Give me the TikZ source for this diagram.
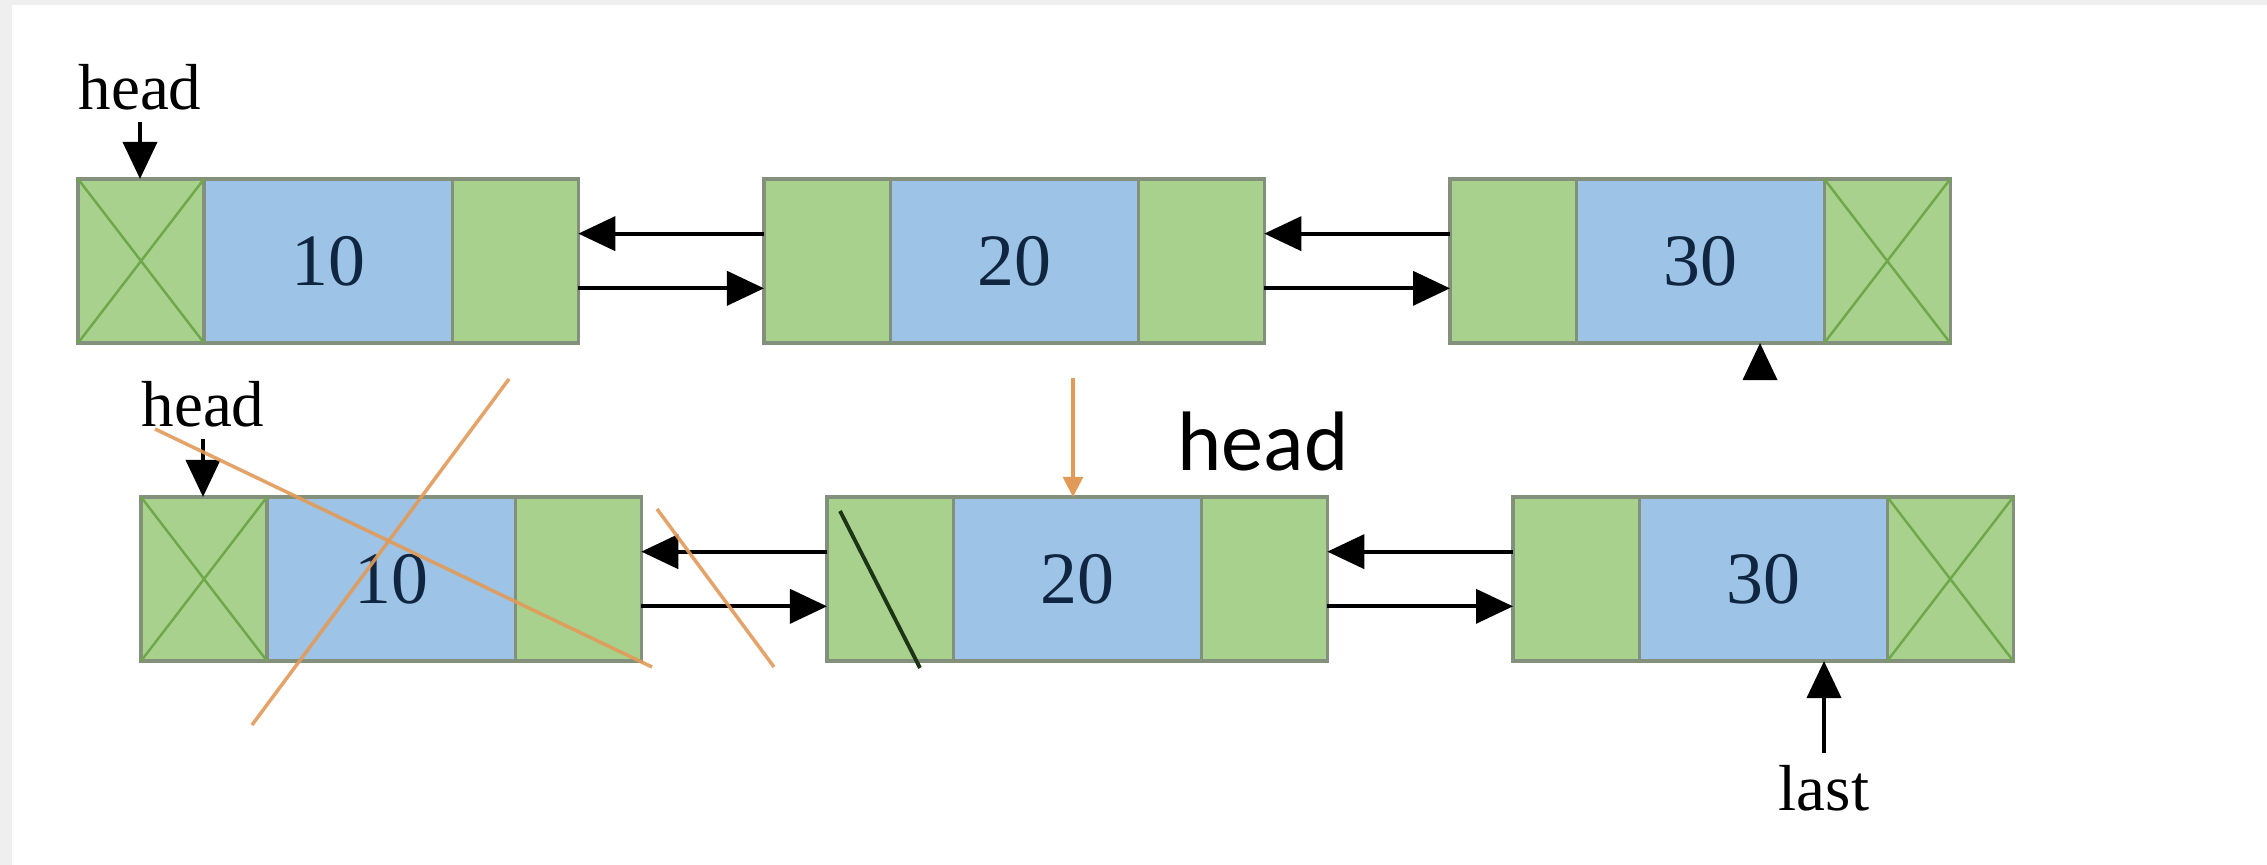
\documentclass[tikz,border=0pt]{standalone}
\usepackage{fontspec}
\setmainfont{Liberation Serif}
\newfontfamily\labelsans{Carlito}
\usetikzlibrary{arrows.meta,calc}

\definecolor{framegray}{HTML}{EFEFEF}
\definecolor{cellgreen}{HTML}{A9D18E}
\definecolor{cellblue}{HTML}{9DC3E6}
\definecolor{cellborder}{HTML}{82907C}
\definecolor{xgreen}{HTML}{6FA84A}
\definecolor{numcolor}{HTML}{10253F}
\definecolor{crossorange}{HTML}{E29A58}
\definecolor{slashcol}{HTML}{1C3514}

% one doubly linked list node: prev pointer, data, next pointer
\newcommand\listnode[4]{%
  \node[ptrcell] (#1p) at (#2,#3) {};
  \node[datacell] (#1d) at (#1p.east) {#4};
  \node[ptrcell] (#1n) at (#1d.east) {};}

\begin{document}
\begin{tikzpicture}[x=0.01cm,y=-0.01cm,
  cell/.style={draw=cellborder, line width=0.9pt, minimum height=1.64cm,
    inner sep=0pt, outer sep=0pt, anchor=west},
  ptrcell/.style={cell, fill=cellgreen, minimum width=1.26cm},
  datacell/.style={cell, fill=cellblue, minimum width=2.48cm,
    text=numcolor, font=\fontsize{21}{24}\selectfont},
  link/.style={line width=1.1pt, -{Triangle[length=0.37cm,width=0.34cm]}},
  orangelink/.style={draw=crossorange, line width=0.9pt,
    -{Triangle[length=0.2cm,width=0.2cm]}},
  nullx/.style={draw=xgreen, line width=0.7pt},
  cross/.style={draw=crossorange, line width=1pt, opacity=0.9},
  slash/.style={draw=slashcol, line width=1.1pt},
  lbl/.style={font=\fontsize{18.5}{20}\selectfont}]

% page frame
\fill[framegray] (0,0) rectangle (2267,865);
\fill[white] (12,5) rectangle (2267,865);
\useasboundingbox (0,0) rectangle (2267,865);

% ---- list before deletion ----
\listnode{a1}{78}{261}{10}
\listnode{a2}{764}{261}{20}
\listnode{a3}{1450}{261}{30}

\draw[nullx] (a1p.north west) -- (a1p.south east) (a1p.north east) -- (a1p.south west);
\draw[nullx] (a3n.north west) -- (a3n.south east) (a3n.north east) -- (a3n.south west);

\draw[link] ($(a2p.north west)!1/3!(a2p.south west)$) -- ($(a1n.north east)!1/3!(a1n.south east)$);
\draw[link] ($(a1n.north east)!2/3!(a1n.south east)$) -- ($(a2p.north west)!2/3!(a2p.south west)$);
\draw[link] ($(a3p.north west)!1/3!(a3p.south west)$) -- ($(a2n.north east)!1/3!(a2n.south east)$);
\draw[link] ($(a2n.north east)!2/3!(a2n.south east)$) -- ($(a3p.north west)!2/3!(a3p.south west)$);

\node[lbl] (h1) at (140,87) {head};
\draw[link] (h1.south) -- (h1.south |- a1p.north);

\coordinate (lastcut) at (1760,379);
\draw[link] (lastcut) -- (lastcut |- a3d.south);

% ---- list after deleting the first node ----
\listnode{b1}{141}{579}{10}
\listnode{b2}{827}{579}{20}
\listnode{b3}{1513}{579}{30}

\draw[nullx] (b1p.north west) -- (b1p.south east) (b1p.north east) -- (b1p.south west);
\draw[nullx] (b3n.north west) -- (b3n.south east) (b3n.north east) -- (b3n.south west);

\draw[link] ($(b2p.north west)!1/3!(b2p.south west)$) -- ($(b1n.north east)!1/3!(b1n.south east)$);
\draw[link] ($(b1n.north east)!2/3!(b1n.south east)$) -- ($(b2p.north west)!2/3!(b2p.south west)$);
\draw[link] ($(b3p.north west)!1/3!(b3p.south west)$) -- ($(b2n.north east)!1/3!(b2n.south east)$);
\draw[link] ($(b2n.north east)!2/3!(b2n.south east)$) -- ($(b3p.north west)!2/3!(b3p.south west)$);

% prev pointer of the new first node set to NULL
\draw[slash] (840,511) -- (920,668);

\node[lbl] (h2) at (203,404) {head};
\draw[link] (h2.south) -- (h2.south |- b1p.north);

\node[lbl] (last) at (1824,788) {last};
\draw[link] (last.north) -- (last.north |- b3d.south);

% strike-outs of the removed node and its links
\draw[cross] (155,429) -- (652,667);
\draw[cross] (509,379) -- (252,725);
\draw[cross] (657,509) -- (774,667);

% head moved to the second node
\node[font=\labelsans\fontsize{24}{28}\selectfont] (h3) at (1263,442) {head};
\coordinate (newhead) at (1073,378);
\draw[orangelink] (newhead) -- (newhead |- b2d.north);
\end{tikzpicture}
\end{document}
